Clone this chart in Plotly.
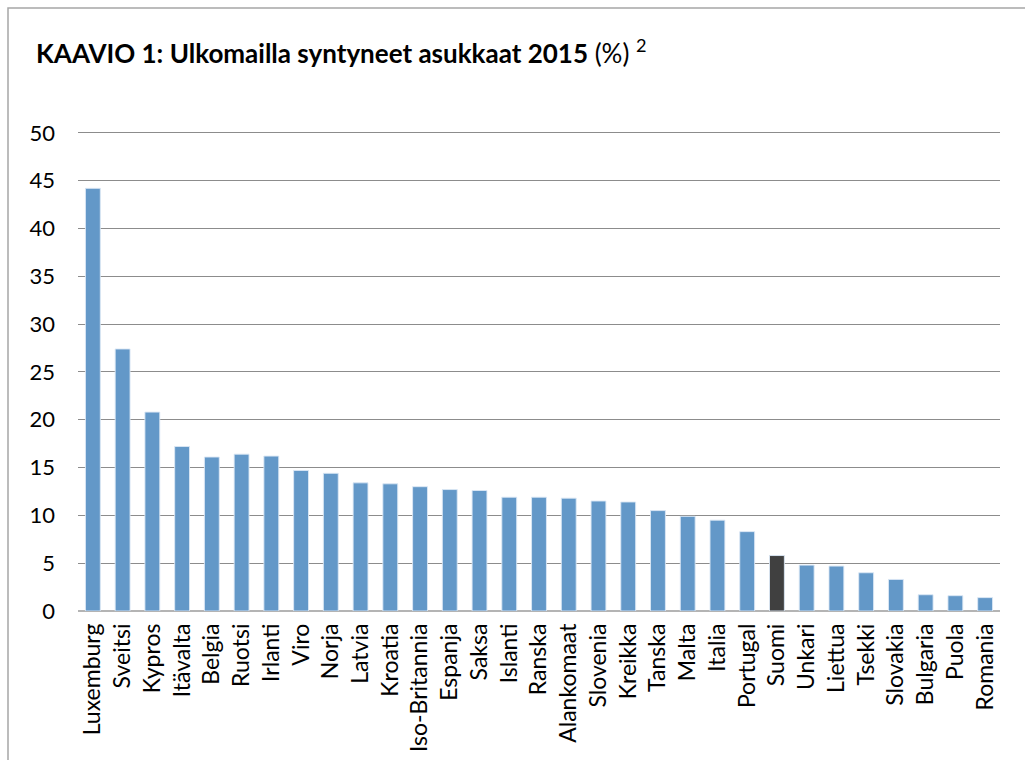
import plotly.graph_objects as go

countries = [
    "Luxemburg", "Sveitsi", "Kypros", "Itävalta", "Belgia", "Ruotsi", "Irlanti",
    "Viro", "Norja", "Latvia", "Kroatia", "Iso-Britannia", "Espanja", "Saksa",
    "Islanti", "Ranska", "Alankomaat", "Slovenia", "Kreikka", "Tanska", "Malta",
    "Italia", "Portugal", "Suomi", "Unkari", "Liettua", "Tsekki", "Slovakia",
    "Bulgaria", "Puola", "Romania",
]
shares = [
    44.2, 27.4, 20.8, 17.2, 16.1, 16.4, 16.2,
    14.7, 14.4, 13.4, 13.3, 13.0, 12.7, 12.6,
    11.9, 11.9, 11.8, 11.5, 11.4, 10.5, 9.9,
    9.5, 8.3, 5.8, 4.8, 4.7, 4.0, 3.3,
    1.7, 1.6, 1.4,
]
y_ticks = [0, 5, 10, 15, 20, 25, 30, 35, 40, 45, 50]

BLUE = "#6398c8"
DARK = "#404040"
colors = [DARK if c == "Suomi" else BLUE for c in countries]

FONT = "Lato, Carlito, Calibri, sans-serif"

fig = go.Figure(
    go.Bar(
        x=countries,
        y=shares,
        marker=dict(color=colors, line=dict(color="rgba(220,232,245,0.9)", width=1)),
        hoverinfo="x+y",
    )
)

fig.update_layout(
    width=1025,
    height=760,
    margin=dict(l=78, r=25, t=130, b=149, autoexpand=False),
    paper_bgcolor="white",
    plot_bgcolor="white",
    bargap=0.5,
    showlegend=False,
    font=dict(family=FONT, color="black", size=22),
    title=dict(
        text="<b>KAAVIO 1: Ulkomailla syntyneet asukkaat 2015</b> (%) <sup>2</sup>",
        x=36 / 1025,
        xanchor="left",
        xref="container",
        y=1 - 54 / 760,
        yanchor="middle",
        yref="container",
        font=dict(family=FONT, size=26, color="black"),
    ),
)

fig.update_xaxes(
    type="category",
    automargin=False,
    tickangle=-90,
    tickfont=dict(size=23),
    ticklabelstandoff=7,
    showgrid=False,
    showline=False,
    ticks="",
)
fig.update_yaxes(
    automargin=False,
    range=[0, 50.3],
    tickvals=y_ticks,
    tickfont=dict(size=22),
    ticklabelstandoff=22,
    showgrid=True,
    gridcolor="#8c8c8c",
    gridwidth=1,
    zeroline=True,
    zerolinecolor="#b4b4b4",
    zerolinewidth=2,
    showline=False,
    ticks="",
)

# outer chart border (frame from the original image)
fig.add_shape(
    type="rect",
    xref="paper",
    yref="paper",
    x0=(8 - 78) / 922,
    x1=1.1,
    y0=-0.5,
    y1=1 + (130 - 8) / 481,
    line=dict(color="#a6a6a6", width=1.5),
    fillcolor="rgba(0,0,0,0)",
    layer="below",
)

fig.write_html(
    "out.html",
    config={"displayModeBar": False},
    post_script="document.body.style.margin = '0';",
)
